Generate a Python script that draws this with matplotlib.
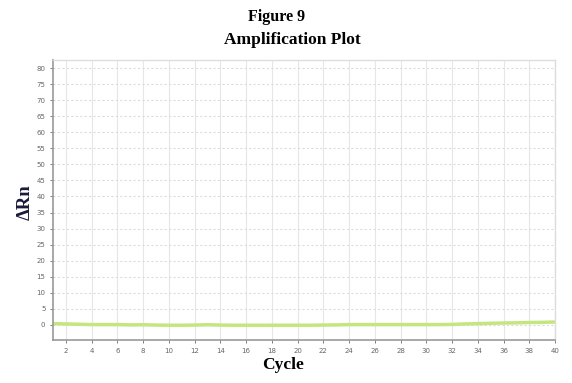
import numpy as np
import matplotlib.pyplot as plt

# amplification curve
cycles = list(range(1, 41))
delta_rn = [0.4, 0.3, 0.2, 0.1, 0.1, 0.1, 0.0, 0.05, -0.05, -0.1,
            -0.1, -0.05, 0.05, -0.05, -0.1, -0.1, -0.1, -0.1, -0.1, -0.1,
            -0.1, -0.05, 0.0, 0.1, 0.1, 0.1, 0.1, 0.1, 0.1, 0.1,
            0.1, 0.15, 0.3, 0.4, 0.5, 0.6, 0.65, 0.75, 0.8, 0.9]
xticks = list(range(2, 41, 2))
yticks = list(range(0, 81, 5))

fig = plt.figure(figsize=(5.72, 3.83), dpi=100)
ax = fig.add_axes([53/572, 1 - 340/383, 502/572, 280/383])

ax.plot(cycles, delta_rn, color="#c5e67f", lw=2.5, solid_capstyle="butt")

ax.set_xlim(1, 40)
ax.set_ylim(-4.7, 82.5)
ax.set_xticks(xticks)
ax.set_yticks(yticks)
ax.tick_params(labelsize=5, colors="#666666", length=2.5, width=0.6, pad=3)

ax.grid(axis="x", color="#e6e6e6", lw=0.8, ls="-")
ax.grid(axis="y", color="#dcdcdc", lw=0.8, ls=(0, (2, 2)))
ax.set_axisbelow(True)
for s in ["left", "bottom"]:
    ax.spines[s].set_color("#999999")
    ax.spines[s].set_linewidth(1.2)
for s in ["top", "right"]:
    ax.spines[s].set_color("#dddddd")
    ax.spines[s].set_linewidth(1.0)

serif = ["Liberation Serif", "DejaVu Serif"]
fig.text(277/572, 1 - 17/383, "Figure 9", ha="center", va="center",
         fontsize=11.5, fontweight="bold", family=serif)
fig.text(292/572, 1 - 40/383, "Amplification Plot", ha="center", va="center",
         fontsize=12.5, fontweight="bold", family=serif)
fig.text(25/572, 1 - 202/383, "ΔRn", ha="center", va="center", rotation=90,
         fontsize=13.5, fontweight="bold", family=serif, color="#1a1a3a")
fig.text(283/572, 1 - 365/383, "Cycle", ha="center", va="center",
         fontsize=12.5, fontweight="bold", family=serif)

fig.savefig("out.png", dpi=100, facecolor="white")
